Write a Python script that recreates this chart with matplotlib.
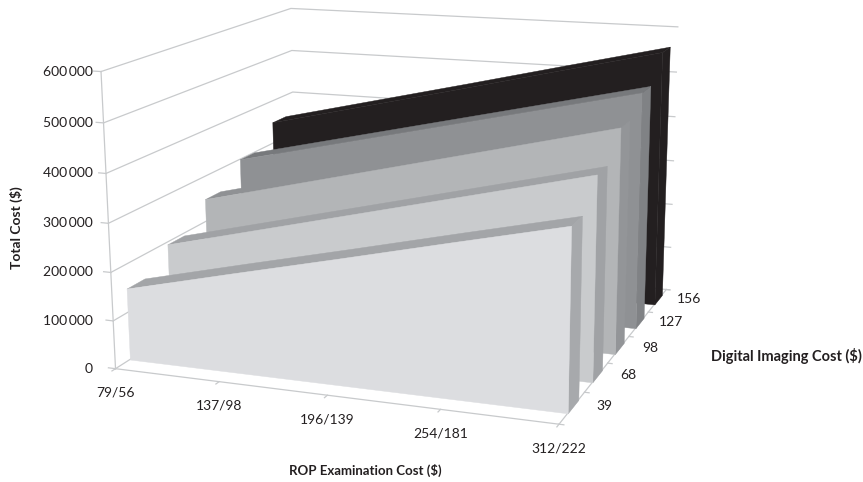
import numpy as np
from matplotlib import pyplot as plt
from mpl_toolkits.mplot3d.art3d import Poly3DCollection

# chart values
rop_labels = ['79/56', '137/98', '196/139', '254/181', '312/222']
imaging_labels = ['39', '68', '98', '127', '156']
cost_ticks = [0, 100000, 200000, 300000, 400000, 500000, 600000]
cost_labels = ['0', '100\u2009000', '200\u2009000', '300\u2009000', '400\u2009000', '500\u2009000', '600\u2009000']

cost_39 = [150000, 203000, 255000, 308000, 360000]
cost_68 = [195000, 250000, 305000, 360000, 415000]
cost_98 = [250000, 305000, 360000, 415000, 470000]
cost_127 = [300000, 352000, 404000, 456000, 508000]
cost_156 = [350000, 403000, 456000, 510000, 563000]

fronts = ['#dcdde0', '#c9cbcd', '#b3b5b7', '#8f9194', '#231f20']
tops = ['#a3a5a8', '#a0a2a5', '#8f9194', '#77797c', '#231f20']
sides = ['#a7a9ac', '#a0a2a5', '#939598', '#808285', '#231f20']
grid_col = '#c8cacc'
text_col = '#231f20'

W, H = 863, 482
ZMAX = 600000.
NX, NY = 4., 5.

plt.rcParams['font.family'] = ['Lato', 'DejaVu Sans']

fig = plt.figure(figsize=(W/100., H/100.), dpi=100)
ax = fig.add_axes([0, 0, 1, 1], projection='3d')
ax.set_xticks([])
ax.set_yticks([])
ax.set_zticks([])
ax.set_axis_off()
ax.computed_zorder = False
ax.set_proj_type('ortho')
ax.apply_aspect = lambda position=None: None

# camera taken from the corners of the box in the picture (data x, y, z -> pixel)
box = [(0, 0, 0, 115, 366), (NX, 0, 0, 559, 427), (NX, NY, 0, 666, 286),
       (0, NY, 0, 297, 257), (0, 0, ZMAX, 102, 72), (0, NY, ZMAX, 290, 7),
       (NX, NY, ZMAX, 675, 28), (0, 0, ZMAX/2, 108, 223)]
rows = []
for x, y, z, px, py in box:
    X = [x, y, z/ZMAX*6, 1]
    u, v = px/1000., (H-py)/1000.
    rows.append(X + [0, 0, 0, 0] + [-u*c for c in X])
    rows.append([0, 0, 0, 0] + X + [-v*c for c in X])
P = np.linalg.svd(np.array(rows))[2][-1].reshape(3, 4)
P = P @ np.diag([1, 1, 6/ZMAX, 1])
P[:2] *= 1000.

def get_proj():
    A = ax.transData.inverted().get_matrix()
    Q = A @ P
    return np.array([Q[0], Q[1], [0, 1, 0, 0.5], Q[2]])
ax.get_proj = get_proj

def to_fig(x, y, z, dx=0, dy=0):
    # data point to figure fraction, dx/dy in pixels (dy up)
    p = P @ np.array([x, y, z, 1.])
    return (p[0]/p[2]+dx)/W, (p[1]/p[2]+dy)/H

order = [0]
def next_z():
    order[0] += 1
    return order[0]

def face(pts, col):
    poly = Poly3DCollection([pts], facecolors=col, edgecolors=col, linewidths=0.3)
    poly.set_zorder(next_z())
    ax.add_collection3d(poly, autolim=False)

def line(xs, ys, zs, lw=0.9):
    ax.plot(xs, ys, zs, color=grid_col, lw=lw, zorder=next_z(), clip_on=False)

# walls, floor and gridlines
for c in cost_ticks:
    line([0, 0, NX+0.03], [0, NY, NY], [c, c, c])
line([0, 0], [0, 0], [0, ZMAX])
line([0, NX, NX], [0, 0, NY], [0, 0, 0])
for i in range(len(rop_labels)):
    line([i, i], [0, -0.08], [0, 0])
for i in range(len(imaging_labels)+1):
    line([NX, NX+0.04], [i, i], [0, 0])
for c in cost_ticks:
    line([0, -0.07], [0, 0], [c, c])

# the series, back to front
y_front = [0.33, 1.33, 2.33, 3.33, 4.33]
y_back = [0.75, 1.75, 2.75, 3.75, 4.75]
series = [cost_39, cost_68, cost_98, cost_127, cost_156]
xs = np.arange(len(rop_labels))
for i in range(4, -1, -1):
    vals = series[i]
    y0, y1 = y_front[i], y_back[i]
    top = [(x, y0, v) for x, v in zip(xs, vals)]
    face([(x, y1, v) for x, v in zip(xs, vals)] + top[::-1], tops[i])
    face([(xs[-1], y0, 0), (xs[-1], y1, 0), (xs[-1], y1, vals[-1]), (xs[-1], y0, vals[-1])], sides[i])
    face([(xs[0], y0, 0), (xs[-1], y0, 0)] + top[::-1], fronts[i])

# tick labels
for i, s in enumerate(rop_labels):
    fx, fy = to_fig(i, 0, 0, dy=-24)
    fig.text(fx, fy, s, ha='center', va='center', fontsize=10, color=text_col)
for i, s in enumerate(imaging_labels):
    fx, fy = to_fig(NX, i+0.5, 0, dx=32, dy=2)
    fig.text(fx, fy, s, ha='center', va='center', fontsize=10, color=text_col)
for c, s in zip(cost_ticks, cost_labels):
    fy = to_fig(0, 0, c)[1]
    fig.text(93./W, fy, s, ha='right', va='center', fontsize=10, color=text_col)

# axis titles
fig.text(16/W, 1-228./H, 'Total Cost ($)', rotation=90, ha='center', va='center', fontsize=10, fontweight='bold', color=text_col)
fig.text(365./W, 1-470./H, 'ROP Examination Cost ($)', ha='center', va='center', fontsize=9.5, fontweight='bold', color=text_col)
fig.text(786./W, 1-356./H, 'Digital Imaging Cost ($)', ha='center', va='center', fontsize=10.5, fontweight='bold', color=text_col)

plt.savefig('out.png', dpi=100)
plt.close()
